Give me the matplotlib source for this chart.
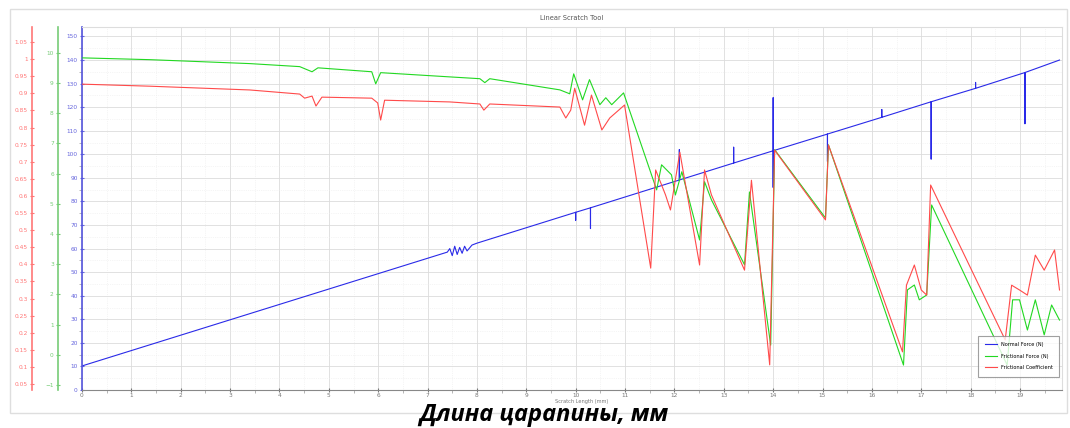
import matplotlib.pyplot as plt
from matplotlib.patches import Rectangle

# scratch length (mm) and the three recorded channels
# normal force (N)
fn_x = [0.0, 7.4, 7.45, 7.5, 7.55, 7.6, 7.65, 7.7, 7.75, 7.8, 7.9, 8.0,
        10.0, 10.0, 10.0, 10.3, 10.3, 10.3,
        12.1, 12.1, 12.1, 13.2, 13.2, 13.2, 14.0, 14.0, 14.0, 14.0,
        15.1, 15.1, 15.1, 16.2, 16.2, 16.2, 17.2, 17.2, 17.2, 18.1, 18.1, 18.1,
        19.1, 19.1, 19.1, 19.8]
fn_y = [10.2, 58.5, 60.0, 57.0, 61.0, 57.5, 60.5, 58.0, 61.0, 59.0, 61.5, 62.3,
        75.4, 72.0, 75.4, 77.3, 68.5, 77.3,
        89.1, 102.0, 89.1, 96.3, 103.0, 96.3, 101.5, 124.0, 86.0, 101.5,
        108.6, 97.0, 108.6, 115.7, 119.0, 115.7, 122.3, 98.0, 122.3, 128.0, 130.5, 128.0,
        134.7, 113.0, 134.7, 140.0]

# frictional force (N)
ff_x = [0.00, 1.38, 3.40, 4.41, 4.66, 4.78, 5.87, 5.95, 6.05, 7.45, 8.06, 8.16, 8.26,
        9.68, 9.88, 9.96, 10.14, 10.28, 10.49, 10.61, 10.73, 10.97,
        11.64, 11.74, 11.94, 12.02, 12.15, 12.51, 12.61, 12.75, 13.42, 13.52,
        13.95, 14.03, 15.06, 15.12, 16.64, 16.72, 16.86, 16.96, 17.11, 17.21,
        18.74, 18.85, 18.99, 19.15, 19.31, 19.49, 19.64, 19.80]
ff_y = [9.83, 9.77, 9.64, 9.54, 9.37, 9.50, 9.37, 8.97, 9.34, 9.20, 9.14, 9.01, 9.14,
        8.77, 8.64, 9.30, 8.44, 9.11, 8.28, 8.51, 8.28, 8.67,
        5.46, 6.29, 5.96, 5.29, 6.06, 3.80, 5.73, 5.13, 2.98, 5.39,
        0.32, 6.79, 4.53, 6.95, -0.34, 2.15, 2.31, 1.82, 1.98, 4.96,
        -0.34, 1.82, 1.82, 0.82, 1.82, 0.66, 1.65, 1.15]

# frictional coefficient
mu_x = [0.00, 1.38, 3.40, 4.41, 4.51, 4.66, 4.74, 4.86, 5.87, 5.99, 6.05, 6.13,
        7.45, 8.06, 8.14, 8.26, 9.68, 9.80, 9.90, 9.98, 10.18, 10.32, 10.53, 10.69, 10.99,
        11.52, 11.62, 11.82, 11.92, 12.11, 12.51, 12.61, 12.75, 13.42, 13.56,
        13.93, 14.03, 15.06, 15.12, 16.62, 16.70, 16.86, 17.00, 17.11, 17.19,
        18.70, 18.83, 18.99, 19.15, 19.31, 19.49, 19.70, 19.80]
mu_y = [0.927, 0.921, 0.910, 0.898, 0.886, 0.892, 0.863, 0.889, 0.886, 0.872, 0.822, 0.880,
        0.875, 0.869, 0.851, 0.869, 0.860, 0.828, 0.851, 0.915, 0.807, 0.895, 0.793, 0.828, 0.866,
        0.389, 0.676, 0.603, 0.559, 0.728, 0.398, 0.676, 0.603, 0.383, 0.646,
        0.106, 0.734, 0.530, 0.749, 0.144, 0.339, 0.398, 0.325, 0.310, 0.632,
        0.179, 0.339, 0.325, 0.310, 0.427, 0.383, 0.442, 0.325]

blue_ticks = list(range(0, 151, 10))
green_ticks = list(range(-1, 11))
red_ticks = [round(0.05 * k, 2) for k in range(1, 22)]

fig = plt.figure(figsize=(10.7, 4.28), dpi=100)
fig.patches.append(Rectangle((0.009, 0.035), 0.988, 0.945, transform=fig.transFigure,
                             fill=False, edgecolor='#dedede', linewidth=1))

ax = fig.add_axes([0.0766, 0.0888, 0.9159, 0.848])
ax_ff = ax.twinx()
ax_mu = ax.twinx()

tick_fs = 4.2
for a, col, offset in [(ax_ff, '#77cc77', -0.0245), (ax_mu, '#ff7777', -0.051)]:
    a.yaxis.set_ticks_position('left')
    a.yaxis.set_label_position('left')
    a.spines['left'].set_position(('axes', offset))
    a.spines['left'].set_color(col)
    a.spines['left'].set_linewidth(1.2)
    for s in ['right', 'top', 'bottom']:
        a.spines[s].set_visible(False)
    a.tick_params(axis='y', colors=col, labelsize=tick_fs, length=3, width=0.8,
                  direction='inout', pad=1.5)

ax.plot(fn_x, fn_y, color='#2a2ae8', linewidth=0.8, label='Normal Force (N)')
ax_ff.plot(ff_x, ff_y, color='#22d822', linewidth=0.8, label='Frictional Force (N)')
ax_mu.plot(mu_x, mu_y, color='#ff4a4a', linewidth=0.8, label='Frictional Coefficient')

ax.set_xlim(0, 19.85)
ax.set_ylim(0, 154)
ax.set_yticks(blue_ticks)
ax.set_xticks(range(0, 20))
ax.set_xticks([k * 0.5 for k in range(40)], minor=True)
ax.set_yticks([k * 5 for k in range(31)], minor=True)
ax_ff.set_ylim(-1.165, 10.85)
ax_ff.set_yticks(green_ticks)
ax_mu.set_ylim(0.0325, 1.094)
ax_mu.set_yticks(red_ticks)
ax_mu.set_yticklabels([f'{v:g}' for v in red_ticks])

ax.grid(True, which='major', color='#dcdcdc', linewidth=0.6)
ax.grid(True, which='minor', color='#ececec', linewidth=0.5, linestyle=':')
ax.tick_params(axis='both', which='major', labelsize=tick_fs, length=3, width=0.8,
               direction='inout', pad=1.0, colors='#777777')
ax.tick_params(axis='both', which='minor', length=2, width=0.5, colors='#999999')
ax.tick_params(axis='y', colors='#6666dd', pad=1.5)
ax.spines['left'].set_color('#5555dd')
ax.spines['left'].set_linewidth(1.2)
ax.spines['bottom'].set_color('#888888')
ax.spines['top'].set_color('#dddddd')
ax.spines['right'].set_color('#dddddd')

ax.set_title('Linear Scratch Tool', fontsize=4.8, color='#555555', pad=5)
ax.set_xlabel('Scratch Length (mm)', fontsize=3.6, color='#777777', labelpad=0)
ax.xaxis.set_label_coords(0.51, -0.024)

handles = [ax.get_lines()[0], ax_ff.get_lines()[0], ax_mu.get_lines()[0]]
leg = ax_mu.legend(handles=handles, loc='lower right', fontsize=3.6, frameon=True,
                   fancybox=False, edgecolor='#888888', handlelength=2.5,
                   borderpad=1.3, labelspacing=1.3, bbox_to_anchor=(1.0, 0.03))
leg.get_frame().set_linewidth(0.8)

fig.text(0.508, 0.017, 'Длина царапины, мм', ha='center', va='baseline',
         fontsize=17, fontweight='bold', fontstyle='italic', family='Open Sans')

fig.savefig('out.png', dpi=100)
